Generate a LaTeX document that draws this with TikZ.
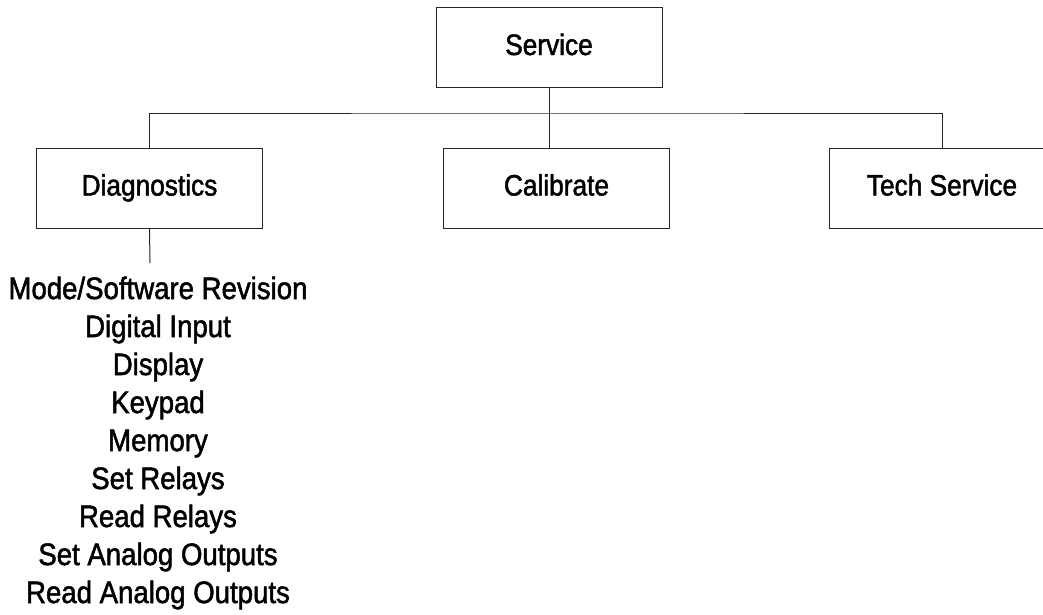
\documentclass[tikz,border=0pt]{standalone}
\usepackage{fontspec}
\setmainfont{Liberation Sans}[FakeStretch=0.89,FakeBold=1.6]
\begin{document}
\begin{tikzpicture}[x=1pt,y=-1pt,
  box/.style={draw=black!85, line width=1pt, minimum width=226pt, minimum height=80pt, inner sep=0pt, text height=21pt, text depth=6pt, font=\fontsize{29.5}{34}\selectfont},
  conn/.style={draw=black!85, line width=1pt}]
\useasboundingbox (0,0) rectangle (1043,614);
\node[box] (service) at (549,47.5) {Service};
\node[box] (diag) at (149.5,188) {Diagnostics};
\node[box] (calib) at (556.5,188) {Calibrate};
\node[box] (tech) at (942,188) {Tech Service};
\coordinate (j) at (549,113);
\coordinate (d) at (150,263);
\draw[conn] (service.south) -- (j);
\draw[conn] (diag.north) |- (j) -| (tech.north);
\draw[conn] (j) -- (j |- calib.north);
\draw[conn] (diag.south) -- (d);
\node[inner sep=0pt, align=center, font=\fontsize{31}{38}\selectfont, anchor=center] (list) at (158,443)
  {Mode/Software Revision\\Digital Input\\Display\\Keypad\\Memory\\Set Relays\\Read Relays\\Set Analog Outputs\\Read Analog Outputs};
\end{tikzpicture}
\end{document}
